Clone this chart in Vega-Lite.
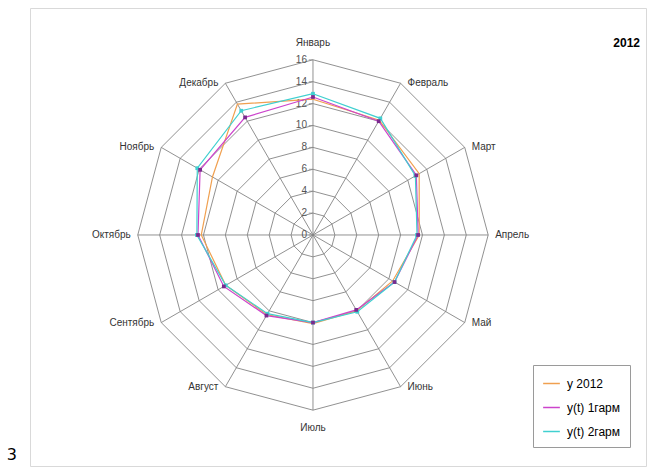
{
  "$schema": "https://vega.github.io/schema/vega-lite/v6.json",
  "width": 616,
  "height": 458,
  "autosize": "none",
  "padding": {"left": 30, "top": 8, "right": 1, "bottom": 2},
  "background": "white",
  "config": {
    "view": {"stroke": "#d9d9d9", "strokeWidth": 1},
    "font": "Liberation Sans",
    "legend": {
      "orient": "none", "legendX": 503, "legendY": 357,
      "strokeColor": "#9a9a9a", "fillColor": "white", "padding": 9,
      "symbolType": "stroke", "symbolStrokeWidth": 1.5, "symbolSize": 280,
      "labelFontSize": 12, "labelColor": "#000", "rowPadding": 8, "labelOffset": 6
    }
  },
  "title": {"text": "2012", "anchor": "end", "orient": "top", "frame": "group", "fontSize": 12, "fontWeight": "bold", "color": "#000", "dy": 46, "dx": -6},
  "datasets": {
    "months": [
      {"idx": 0, "name": "Январь"}, {"idx": 1, "name": "Февраль"}, {"idx": 2, "name": "Март"},
      {"idx": 3, "name": "Апрель"}, {"idx": 4, "name": "Май"}, {"idx": 5, "name": "Июнь"},
      {"idx": 6, "name": "Июль"}, {"idx": 7, "name": "Август"}, {"idx": 8, "name": "Сентябрь"},
      {"idx": 9, "name": "Октябрь"}, {"idx": 10, "name": "Ноябрь"}, {"idx": 11, "name": "Декабрь"}
    ],
    "rings": [
      {"level": 2, "k": [0,1,2,3,4,5,6,7,8,9,10,11]},
      {"level": 4, "k": [0,1,2,3,4,5,6,7,8,9,10,11]},
      {"level": 6, "k": [0,1,2,3,4,5,6,7,8,9,10,11]},
      {"level": 8, "k": [0,1,2,3,4,5,6,7,8,9,10,11]},
      {"level": 10, "k": [0,1,2,3,4,5,6,7,8,9,10,11]},
      {"level": 12, "k": [0,1,2,3,4,5,6,7,8,9,10,11]},
      {"level": 14, "k": [0,1,2,3,4,5,6,7,8,9,10,11]},
      {"level": 16, "k": [0,1,2,3,4,5,6,7,8,9,10,11]}
    ],
    "levels": [
      {"level": 0}, {"level": 2}, {"level": 4}, {"level": 6}, {"level": 8},
      {"level": 10}, {"level": 12}, {"level": 14}, {"level": 16}
    ],
    "series": [
      {"series": "y 2012", "idx": 0, "value": 12.4}, {"series": "y 2012", "idx": 1, "value": 12.1},
      {"series": "y 2012", "idx": 2, "value": 11.2}, {"series": "y 2012", "idx": 3, "value": 9.7},
      {"series": "y 2012", "idx": 4, "value": 8.4}, {"series": "y 2012", "idx": 5, "value": 8.0},
      {"series": "y 2012", "idx": 6, "value": 8.1}, {"series": "y 2012", "idx": 7, "value": 8.4},
      {"series": "y 2012", "idx": 8, "value": 9.2}, {"series": "y 2012", "idx": 9, "value": 10.2},
      {"series": "y 2012", "idx": 10, "value": 10.6}, {"series": "y 2012", "idx": 11, "value": 13.8},
      {"series": "y(t) 1гарм", "idx": 0, "value": 12.6}, {"series": "y(t) 1гарм", "idx": 1, "value": 12.0},
      {"series": "y(t) 1гарм", "idx": 2, "value": 10.9}, {"series": "y(t) 1гарм", "idx": 3, "value": 9.6},
      {"series": "y(t) 1гарм", "idx": 4, "value": 8.6}, {"series": "y(t) 1гарм", "idx": 5, "value": 7.9},
      {"series": "y(t) 1гарм", "idx": 6, "value": 8.0}, {"series": "y(t) 1гарм", "idx": 7, "value": 8.5},
      {"series": "y(t) 1гарм", "idx": 8, "value": 9.4}, {"series": "y(t) 1гарм", "idx": 9, "value": 10.5},
      {"series": "y(t) 1гарм", "idx": 10, "value": 11.9}, {"series": "y(t) 1гарм", "idx": 11, "value": 12.4},
      {"series": "y(t) 2гарм", "idx": 0, "value": 12.9}, {"series": "y(t) 2гарм", "idx": 1, "value": 12.3},
      {"series": "y(t) 2гарм", "idx": 2, "value": 10.8}, {"series": "y(t) 2гарм", "idx": 3, "value": 9.5},
      {"series": "y(t) 2гарм", "idx": 4, "value": 8.6}, {"series": "y(t) 2гарм", "idx": 5, "value": 8.1},
      {"series": "y(t) 2гарм", "idx": 6, "value": 8.0}, {"series": "y(t) 2гарм", "idx": 7, "value": 8.3},
      {"series": "y(t) 2гарм", "idx": 8, "value": 9.2}, {"series": "y(t) 2гарм", "idx": 9, "value": 10.6},
      {"series": "y(t) 2гарм", "idx": 10, "value": 12.2}, {"series": "y(t) 2гарм", "idx": 11, "value": 13.1}
    ],
    "page": [{"t": "3"}]
  },
  "layer": [
    {
      "data": {"name": "rings"},
      "transform": [
        {"flatten": ["k"]},
        {"calculate": "datum.level * sin(datum.k * PI / 6)", "as": "px"},
        {"calculate": "datum.level * cos(datum.k * PI / 6)", "as": "py"}
      ],
      "mark": {"type": "line", "interpolate": "linear-closed", "color": "#858585", "strokeWidth": 0.9},
      "encoding": {
        "x": {"field": "px", "type": "quantitative", "scale": {"domain": [-25.84, 30.41], "nice": false, "zero": false}, "axis": null},
        "y": {"field": "py", "type": "quantitative", "scale": {"domain": [-21.10, 20.73], "nice": false, "zero": false}, "axis": null},
        "detail": {"field": "level", "type": "nominal"},
        "order": {"field": "k", "type": "quantitative"}
      }
    },
    {
      "data": {"name": "months"},
      "transform": [
        {"calculate": "0", "as": "ox"},
        {"calculate": "16 * sin(datum.idx * PI / 6)", "as": "ex"},
        {"calculate": "16 * cos(datum.idx * PI / 6)", "as": "ey"}
      ],
      "mark": {"type": "rule", "color": "#858585", "strokeWidth": 0.9},
      "encoding": {
        "x": {"field": "ox", "type": "quantitative"},
        "y": {"field": "ox", "type": "quantitative"},
        "x2": {"field": "ex"},
        "y2": {"field": "ey"}
      }
    },
    {
      "data": {"name": "levels"},
      "transform": [{"calculate": "-0.2", "as": "tx"}],
      "mark": {"type": "tick", "orient": "horizontal", "color": "#858585", "size": 4, "thickness": 1},
      "encoding": {
        "x": {"field": "tx", "type": "quantitative"},
        "y": {"field": "level", "type": "quantitative"}
      }
    },
    {
      "data": {"name": "levels"},
      "transform": [{"calculate": "0", "as": "ox"}],
      "mark": {"type": "text", "align": "right", "baseline": "middle", "dx": -6, "fontSize": 10, "color": "#555"},
      "encoding": {
        "x": {"field": "ox", "type": "quantitative"},
        "y": {"field": "level", "type": "quantitative"},
        "text": {"field": "level", "type": "quantitative"}
      }
    },
    {
      "data": {"name": "series"},
      "transform": [
        {"calculate": "datum.value * sin(datum.idx * PI / 6)", "as": "px"},
        {"calculate": "datum.value * cos(datum.idx * PI / 6)", "as": "py"}
      ],
      "mark": {"type": "line", "interpolate": "linear-closed", "strokeWidth": 1.2},
      "encoding": {
        "x": {"field": "px", "type": "quantitative"},
        "y": {"field": "py", "type": "quantitative"},
        "color": {
          "field": "series", "type": "nominal",
          "scale": {"domain": ["y 2012", "y(t) 1гарм", "y(t) 2гарм"], "range": ["#f0a050", "#cc44cc", "#40d0d0"]},
          "legend": {"title": null}
        },
        "order": {"field": "idx", "type": "quantitative"}
      }
    },
    {
      "data": {"name": "series"},
      "transform": [
        {"filter": "datum.series == 'y(t) 2гарм'"},
        {"calculate": "datum.value * sin(datum.idx * PI / 6)", "as": "px"},
        {"calculate": "datum.value * cos(datum.idx * PI / 6)", "as": "py"}
      ],
      "mark": {"type": "square", "size": 14, "color": "#40d0d0", "opacity": 1},
      "encoding": {
        "x": {"field": "px", "type": "quantitative"},
        "y": {"field": "py", "type": "quantitative"}
      }
    },
    {
      "data": {"name": "series"},
      "transform": [
        {"filter": "datum.series == 'y(t) 1гарм'"},
        {"calculate": "datum.value * sin(datum.idx * PI / 6)", "as": "px"},
        {"calculate": "datum.value * cos(datum.idx * PI / 6)", "as": "py"}
      ],
      "mark": {"type": "square", "size": 14, "color": "#7a2a8e", "opacity": 1},
      "encoding": {
        "x": {"field": "px", "type": "quantitative"},
        "y": {"field": "py", "type": "quantitative"}
      }
    },
    {
      "data": {"name": "months"},
      "transform": [
        {"calculate": "16 * sin(datum.idx * PI / 6)", "as": "lx"},
        {"calculate": "16 * cos(datum.idx * PI / 6)", "as": "ly"}
      ],
      "mark": {
        "type": "text", "baseline": "middle", "fontSize": 10, "color": "#333",
        "align": {"expr": "datum.idx == 0 || datum.idx == 6 ? 'center' : (datum.idx < 6 ? 'left' : 'right')"},
        "dx": {"expr": "datum.idx == 0 || datum.idx == 6 ? 0 : (datum.idx < 6 ? 7 : -7)"},
        "dy": {"expr": "datum.idx == 0 ? -17 : (datum.idx == 6 ? 18 : 0)"}
      },
      "encoding": {
        "x": {"field": "lx", "type": "quantitative"},
        "y": {"field": "ly", "type": "quantitative"},
        "text": {"field": "name", "type": "nominal"}
      }
    },
    {
      "data": {"name": "page"},
      "transform": [
        {"calculate": "-27.5", "as": "gx"},
        {"calculate": "-20.1", "as": "gy"}
      ],
      "mark": {"type": "text", "align": "center", "baseline": "middle", "fontSize": 16, "color": "#000", "font": "DejaVu Sans"},
      "encoding": {
        "x": {"field": "gx", "type": "quantitative"},
        "y": {"field": "gy", "type": "quantitative"},
        "text": {"field": "t", "type": "nominal"}
      }
    }
  ]
}
